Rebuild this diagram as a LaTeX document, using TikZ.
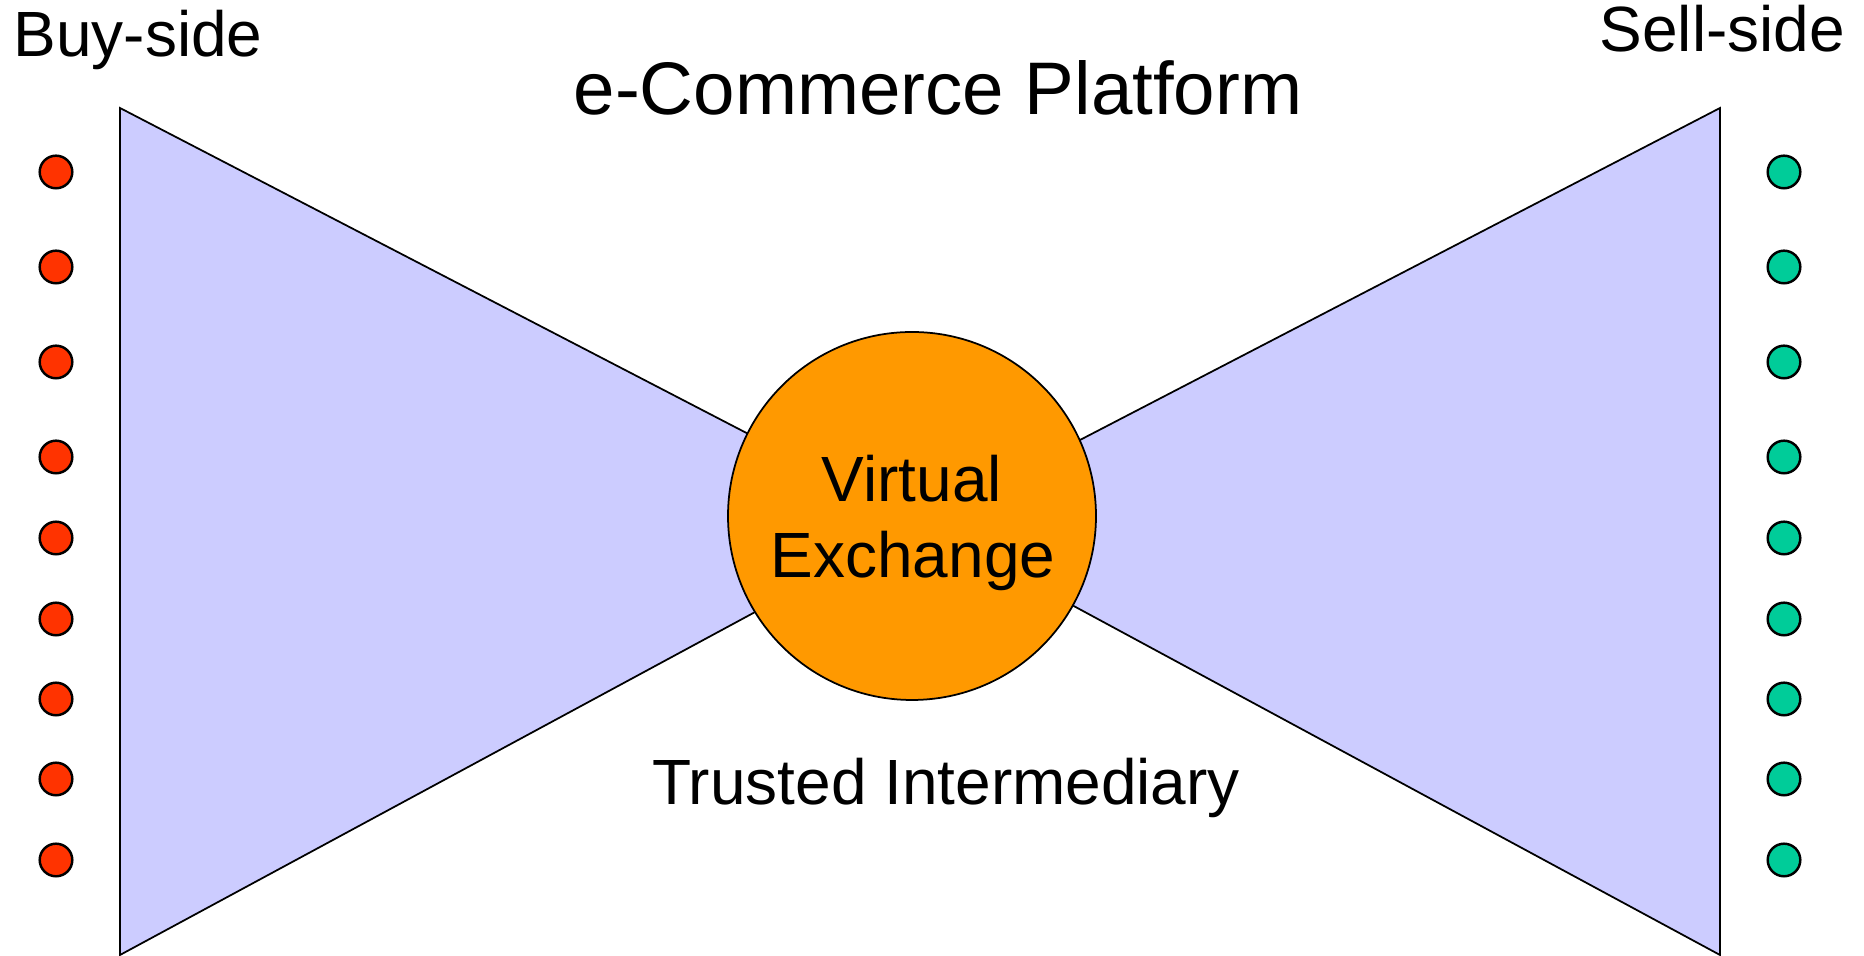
\documentclass[tikz,border=0pt]{standalone}
\usepackage{fontspec}
\setmainfont{Liberation Sans}
\usepackage{tikz}
\definecolor{buyred}{HTML}{FF3300}
\definecolor{sellgreen}{HTML}{00CC99}
\definecolor{wing}{HTML}{CCCCFF}
\definecolor{hub}{HTML}{FF9900}
\tikzset{
	label text/.style={font=\fontsize{18.2}{21.8}\selectfont, inner sep=0pt},
	buy dot/.style={fill=buyred, line width=0.7pt},
	sell dot/.style={fill=sellgreen, line width=0.7pt}
}

\begin{document}
\begin{tikzpicture}
			%%%%% START %%%%%
			\useasboundingbox (0, 0) rectangle (18.64, 9.56);
			
			\draw[fill=wing, line width=0.5pt] (1.20, 8.48) -- (9.20, 4.33) -- (1.20, 0.01) -- cycle;
			\draw[fill=wing, line width=0.5pt] (17.20, 8.48) -- (9.20, 4.33) -- (17.20, 0.01) -- cycle;
			
			\draw[fill=hub, line width=0.5pt] (9.12, 4.40) circle (1.84);
			\node[label text, anchor=base] (virtual) at (9.12, 4.54) {Virtual};
			\node[label text, anchor=base] (exchange) at (9.13, 3.78) {Exchange};
			
			\node[label text, anchor=base west] (buy) at (0.13, 8.99) {Buy-side};
			\node[label text, anchor=base west] (sell) at (15.99, 9.04) {Sell-side};
			\node[font=\fontsize{21.2}{25}\selectfont, inner sep=0pt, anchor=base] (platform) at (9.38, 8.41) {e-Commerce Platform};
			\node[label text, anchor=base] (trusted) at (9.46, 1.51) {Trusted Intermediary};
			
			\draw[buy dot] (0.56, 7.84) circle (0.163);
			\draw[buy dot] (0.56, 6.89) circle (0.163);
			\draw[buy dot] (0.56, 5.94) circle (0.163);
			\draw[buy dot] (0.56, 4.99) circle (0.163);
			\draw[buy dot] (0.56, 4.18) circle (0.163);
			\draw[buy dot] (0.56, 3.37) circle (0.163);
			\draw[buy dot] (0.56, 2.57) circle (0.163);
			\draw[buy dot] (0.56, 1.77) circle (0.163);
			\draw[buy dot] (0.56, 0.96) circle (0.163);
			
			\draw[sell dot] (17.84, 7.84) circle (0.163);
			\draw[sell dot] (17.84, 6.89) circle (0.163);
			\draw[sell dot] (17.84, 5.94) circle (0.163);
			\draw[sell dot] (17.84, 4.99) circle (0.163);
			\draw[sell dot] (17.84, 4.18) circle (0.163);
			\draw[sell dot] (17.84, 3.37) circle (0.163);
			\draw[sell dot] (17.84, 2.57) circle (0.163);
			\draw[sell dot] (17.84, 1.77) circle (0.163);
			\draw[sell dot] (17.84, 0.96) circle (0.163);
			
			%%%%% END %%%%%
\end{tikzpicture}
\end{document}
